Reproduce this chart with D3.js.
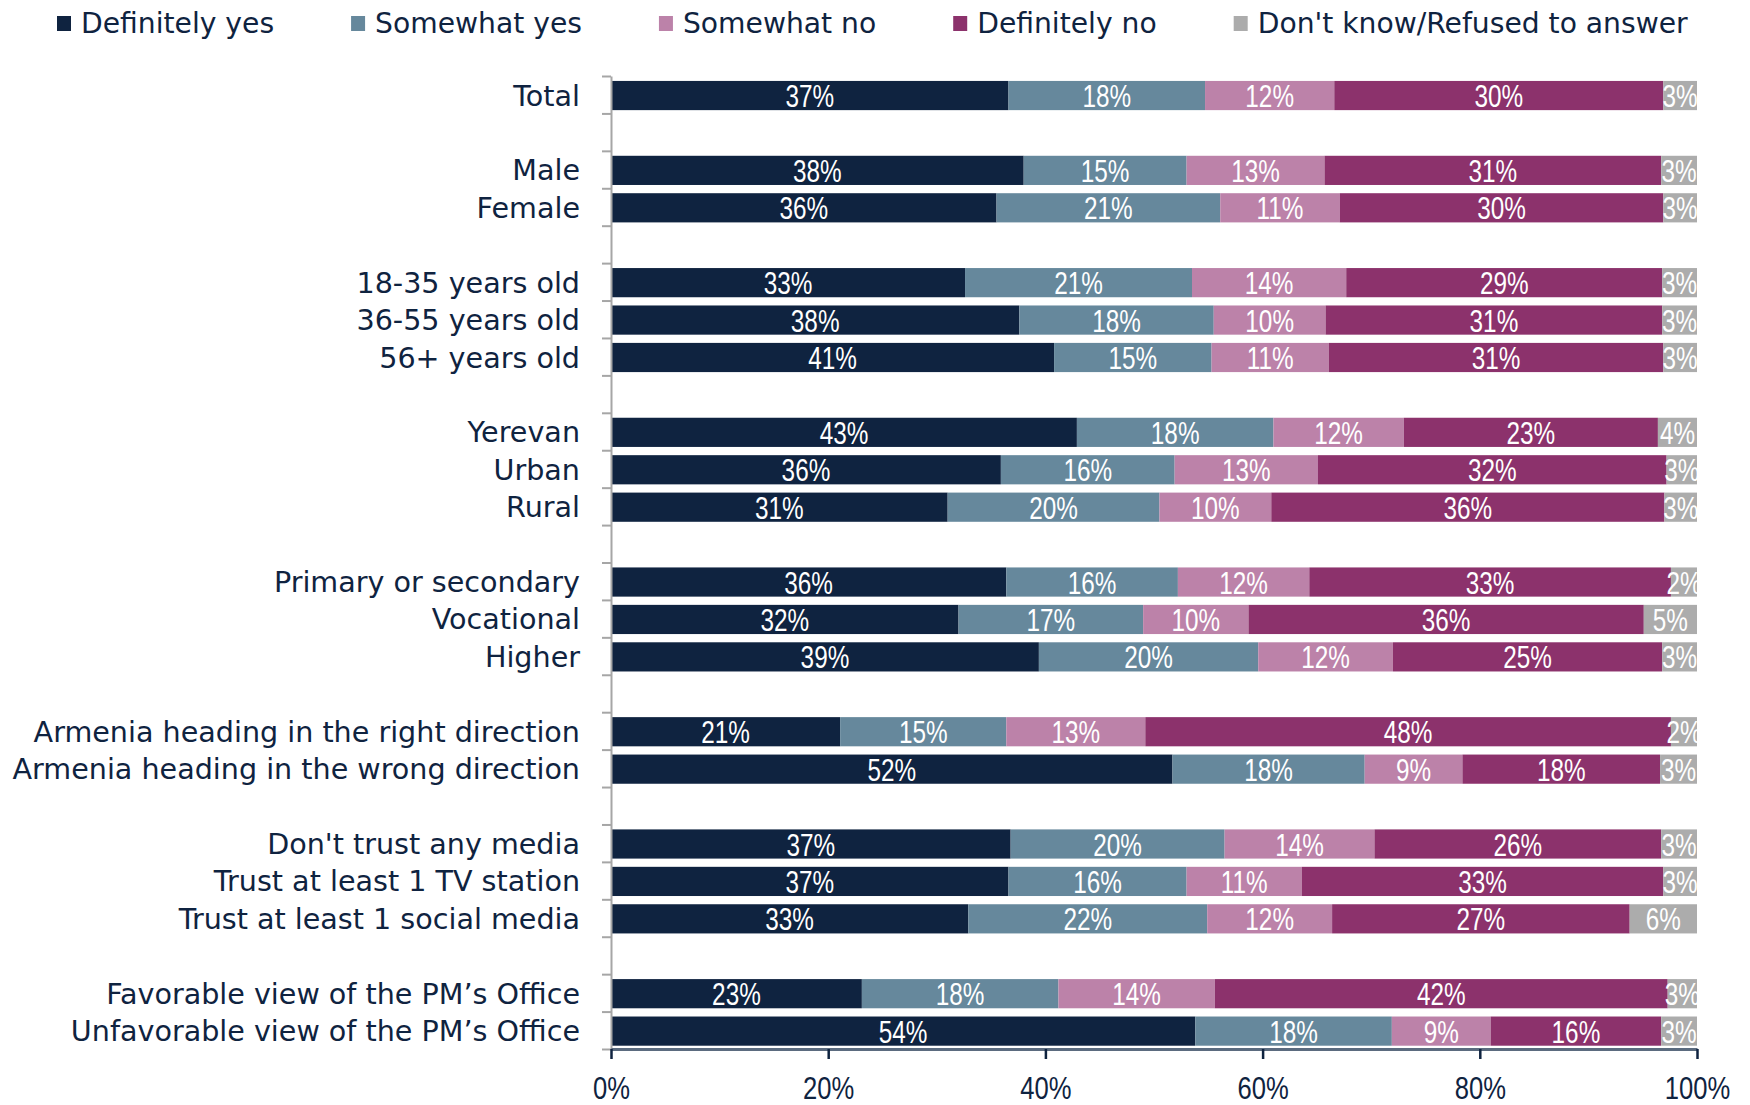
<!DOCTYPE html>
<html>
<head>
<meta charset="utf-8">
<script src="https://cdn.jsdelivr.net/npm/d3@7"></script>
<style>
  body { margin: 0; background: #ffffff; }
  svg { display: block; }
</style>
</head>
<body>
<div id="chart"></div>
<script>
// chart size
var svgWidth = 1750;
var svgHeight = 1105;

// row labels, grouped (a blank row sits between groups)
var categories = [
  "Total",
  "Male", "Female",
  "18-35 years old", "36-55 years old", "56+ years old",
  "Yerevan", "Urban", "Rural",
  "Primary or secondary", "Vocational", "Higher",
  "Armenia heading in the right direction", "Armenia heading in the wrong direction",
  "Don't trust any media", "Trust at least 1 TV station", "Trust at least 1 social media",
  "Favorable view of the PM\u2019s Office", "Unfavorable view of the PM\u2019s Office"
];
var groupSizes = [1, 2, 3, 3, 3, 2, 3, 2];

var seriesNames = ["Definitely yes", "Somewhat yes", "Somewhat no", "Definitely no", "Don't know/Refused to answer"];
var seriesColors = ["#0f2340", "#66889c", "#bc82a9", "#8c326c", "#acacac"];

// percentages per series, in the order of categories
var definitelyYes = [36.6, 38.0, 35.5, 32.6, 37.6, 40.8, 42.9, 35.9, 31.0, 36.4, 32.0, 39.4, 21.1, 51.7, 36.8, 36.6, 32.9, 23.1, 53.8];
var somewhatYes   = [18.1, 15.0, 20.6, 20.9, 17.9, 14.5, 18.1, 16.0, 19.5, 15.8, 17.0, 20.2, 15.3, 17.7, 19.7, 16.4, 22.0, 18.1, 18.1];
var somewhatNo    = [11.9, 12.7, 11.0, 14.2, 10.3, 10.8, 12.0, 13.2, 10.3, 12.1, 9.7, 12.4, 12.8, 9.0, 13.8, 10.6, 11.5, 14.4, 9.1];
var definitelyNo  = [30.3, 31.0, 29.8, 29.1, 31.0, 30.8, 23.4, 32.1, 36.2, 33.3, 36.4, 24.8, 48.4, 18.2, 26.4, 33.3, 27.4, 41.7, 15.7];
var dontKnow      = [3.1, 3.3, 3.1, 3.2, 3.2, 3.1, 3.6, 2.8, 3.0, 2.4, 4.9, 3.2, 2.4, 3.4, 3.3, 3.1, 6.2, 2.7, 3.3];

var xTicks = [0, 20, 40, 60, 80, 100];

var seriesValues = [definitelyYes, somewhatYes, somewhatNo, definitelyNo, dontKnow];

// build table rows for d3.stack
var rows = categories.map(function(c, i) {
  var row = { category: c };
  seriesNames.forEach(function(s, j) { row[s] = seriesValues[j][i]; });
  return row;
});

// slots: categories plus blank spacer rows between groups
var slots = [];
var k = 0;
groupSizes.forEach(function(n, g) {
  if (g > 0) slots.push("__gap" + g);
  for (var i = 0; i < n; i++) slots.push(categories[k++]);
});

var margin = { top: 76, right: 53, bottom: 56, left: 611 };
var width = svgWidth - margin.left - margin.right;
var height = svgHeight - margin.top - margin.bottom;

var textColor = "#0f2340";
var labelFont = "'DejaVu Sans', Verdana, sans-serif";
// no narrow face installed: squeeze Liberation Sans horizontally instead
var narrowFont = "'Liberation Sans', Arial, sans-serif";
var squeeze = 0.76;

var svg = d3.select("#chart")
  .append("svg")
  .attr("width", svgWidth)
  .attr("height", svgHeight);

var chartGroup = svg.append("g")
  .attr("transform", `translate(${margin.left}, ${margin.top})`);

// scales
var xScale = d3.scaleLinear()
  .domain([0, 100])
  .range([0, width]);

var yScale = d3.scaleBand()
  .domain(slots)
  .range([0, height])
  .paddingInner(0.22)
  .paddingOuter(0.11)
  .align(0.6);

// slot boundaries for left axis ticks
var slotScale = d3.scaleLinear()
  .domain([0, slots.length])
  .range([0, height]);

// stacked data
var stacked = d3.stack().keys(seriesNames)(rows);

var layers = chartGroup.selectAll("g.layer")
  .data(stacked)
  .enter()
  .append("g")
  .attr("class", "layer")
  .attr("fill", (d, i) => seriesColors[i]);

layers.selectAll("rect")
  .data(d => d)
  .enter()
  .append("rect")
  .attr("x", d => xScale(d[0]))
  .attr("y", d => yScale(d.data.category))
  .attr("width", d => xScale(d[1]) - xScale(d[0]))
  .attr("height", yScale.bandwidth());

// value labels inside segments
var labelGroup = chartGroup.append("g");
stacked.forEach(function(layer) {
  labelGroup.selectAll(null)
    .data(layer)
    .enter()
    .append("text")
    .attr("transform", d => `translate(${(xScale(d[0]) + xScale(d[1])) / 2}, ${yScale(d.data.category) + yScale.bandwidth() / 2}) scale(${squeeze}, 1)`)
    .attr("dy", "0.36em")
    .attr("text-anchor", "middle")
    .attr("font-family", narrowFont)
    .attr("font-size", "32px")
    .attr("fill", "#ffffff")
    .text(d => Math.round(d[1] - d[0]) + "%");
});

// left axis: line with ticks at slot boundaries
var leftAxis = d3.axisLeft(slotScale)
  .ticks(slots.length)
  .tickFormat("")
  .tickSize(9)
  .tickSizeOuter(0);

var yAxis = chartGroup.append("g")
  .call(leftAxis);
yAxis.select(".domain").attr("stroke", "#a6a6a6").attr("stroke-width", 2);
yAxis.selectAll(".tick line").attr("stroke", "#a6a6a6").attr("stroke-width", 2);

// category labels
chartGroup.append("g")
  .selectAll("text")
  .data(categories)
  .enter()
  .append("text")
  .attr("x", -31)
  .attr("y", d => yScale(d) + yScale.bandwidth() / 2)
  .attr("dy", "0.35em")
  .attr("text-anchor", "end")
  .attr("font-family", labelFont)
  .attr("font-size", "28.6px")
  .attr("fill", textColor)
  .text(d => d);

// bottom axis
var bottomAxis = d3.axisBottom(xScale)
  .tickValues(xTicks)
  .tickFormat(d => d + "%")
  .tickSize(10)
  .tickSizeOuter(0)
  .tickPadding(17);

var xAxis = chartGroup.append("g")
  .attr("transform", `translate(0, ${height})`)
  .call(bottomAxis);
xAxis.select(".domain").attr("stroke", "#5b6b7f").attr("stroke-width", 3);
xAxis.selectAll(".tick line").attr("stroke", textColor).attr("stroke-width", 2.5);
xAxis.selectAll(".tick text")
  .attr("transform", "scale(0.8, 1)")
  .attr("font-family", narrowFont)
  .attr("font-size", "32px")
  .attr("fill", textColor);

// legend
var legend = svg.append("g").attr("transform", "translate(57, 1)");
var lx = 0;
seriesNames.forEach(function(name, i) {
  var item = legend.append("g").attr("transform", `translate(${lx}, 0)`);
  item.append("rect")
    .attr("x", 0)
    .attr("y", 15)
    .attr("width", 14)
    .attr("height", 15)
    .attr("fill", seriesColors[i]);
  var t = item.append("text")
    .attr("x", 24)
    .attr("y", 22.5)
    .attr("dy", "0.35em")
    .attr("font-family", labelFont)
    .attr("font-size", "28.2px")
    .attr("fill", textColor)
    .text(name);
  lx += 24 + t.node().getComputedTextLength() + 77;
});
</script>
</body>
</html>
